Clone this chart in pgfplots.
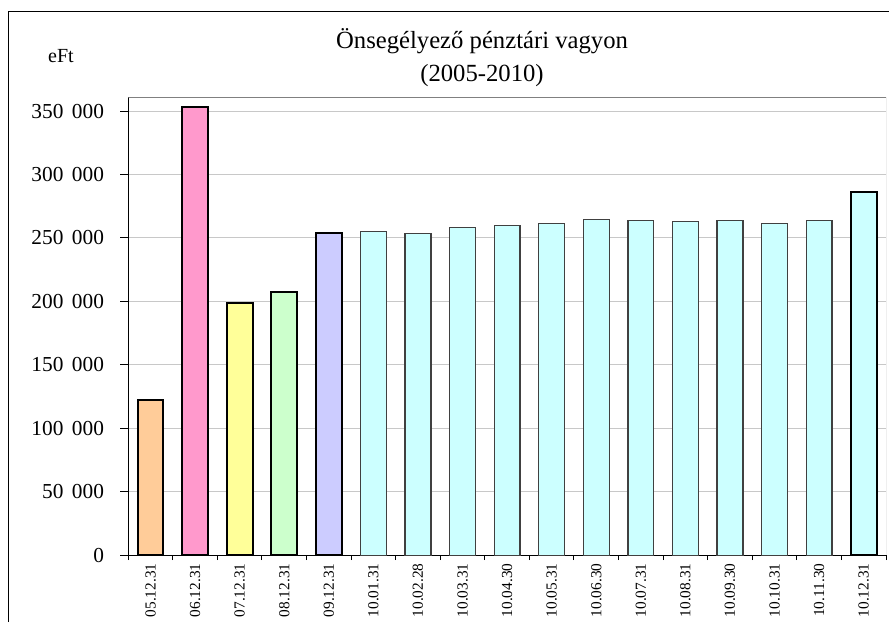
\documentclass[border=0pt]{standalone}
\usepackage{fontspec}
\setmainfont{Liberation Serif}
\usepackage{pgfplots}
\pgfplotsset{compat=1.18}
\definecolor{cOrange}{HTML}{FFCC99}
\definecolor{cPink}{HTML}{FF99CC}
\definecolor{cYellow}{HTML}{FFFF99}
\definecolor{cGreen}{HTML}{CCFFCC}
\definecolor{cLav}{HTML}{CCCCFF}
\definecolor{cCyan}{HTML}{CCFFFF}
\definecolor{gridgray}{HTML}{C8C8C8}
\definecolor{framegray}{HTML}{808080}
\definecolor{thinedge}{HTML}{404040}
\newcommand{\ts}{\hspace{0.4em}}
\begin{document}
\begin{tikzpicture}
\useasboundingbox (0,0) rectangle (666.75pt,466.5pt);
\draw[line width=0.75pt] (6.2pt,0) -- (6.2pt,457.5pt) -- (666.75pt,457.5pt);
\node[anchor=base, inner sep=0pt, font=\fontsize{18.5}{22}\selectfont] at (361.5pt,429.75pt) {Önsegélyező pénztári vagyon};
\node[anchor=base, inner sep=0pt, font=\fontsize{18.5}{22}\selectfont] at (361.5pt,405pt) {(2005-2010)};
\node[anchor=base, inner sep=0pt, font=\fontsize{15}{18}\selectfont] at (45.75pt,419.25pt) {eFt};
\begin{axis}[
  at={(96.2pt,50pt)}, anchor=south west,
  scale only axis, width=568.3pt, height=343.7pt,
  xmin=-0.5, xmax=16.5, ymin=0, ymax=361000,
  axis x line*=bottom, axis y line*=left,
  axis line style={black, line width=0.75pt},
  ytick={0,50000,100000,150000,200000,250000,300000,350000},
  yticklabels={0,50\ts000,100\ts000,150\ts000,200\ts000,250\ts000,300\ts000,350\ts000},
  scaled y ticks=false,
  ymajorgrids, grid style={color=gridgray, line width=0.75pt},
  xtick={0,...,16},
  xticklabels={05.12.31,06.12.31,07.12.31,08.12.31,09.12.31,10.01.31,10.02.28,10.03.31,10.04.30,10.05.31,10.06.30,10.07.31,10.08.31,10.09.30,10.10.31,10.11.30,10.12.31},
  minor xtick={-0.5,0.5,...,16.5},
  tick align=outside, major tick length=6pt, minor tick length=3.5pt,
  tick style={black, line width=0.75pt},
  major x tick style={draw=none},
  yticklabel style={font=\fontsize{16}{19}\selectfont, inner sep=0pt, xshift=-12pt},
  xticklabel style={font=\fontsize{11.5}{13}\selectfont, rotate=90, anchor=east, inner sep=0pt},
  ybar, bar width=0.58,
]
\addplot[bar shift=0pt, fill=cOrange, draw=black, line width=1.5pt] coordinates {(0,122500)};
\addplot[bar shift=0pt, fill=cPink, draw=black, line width=1.5pt] coordinates {(1,353200)};
\addplot[bar shift=0pt, fill=cYellow, draw=black, line width=1.5pt] coordinates {(2,198400)};
\addplot[bar shift=0pt, fill=cGreen, draw=black, line width=1.5pt] coordinates {(3,207300)};
\addplot[bar shift=0pt, fill=cLav, draw=black, line width=1.5pt] coordinates {(4,253800)};
\addplot[bar shift=0pt, fill=cCyan, draw=thinedge, line width=0.9pt] coordinates {
  (5,254800) (6,253800) (7,258000) (8,259800) (9,261400) (10,264800)
  (11,263800) (12,263000) (13,263800) (14,261400) (15,263800)};
\addplot[bar shift=0pt, fill=cCyan, draw=black, line width=1.5pt] coordinates {(16,286600)};
\draw[framegray, line width=0.75pt] (rel axis cs:0,1) -- (rel axis cs:1,1) -- (rel axis cs:1,0);
\end{axis}
\end{tikzpicture}
\end{document}
